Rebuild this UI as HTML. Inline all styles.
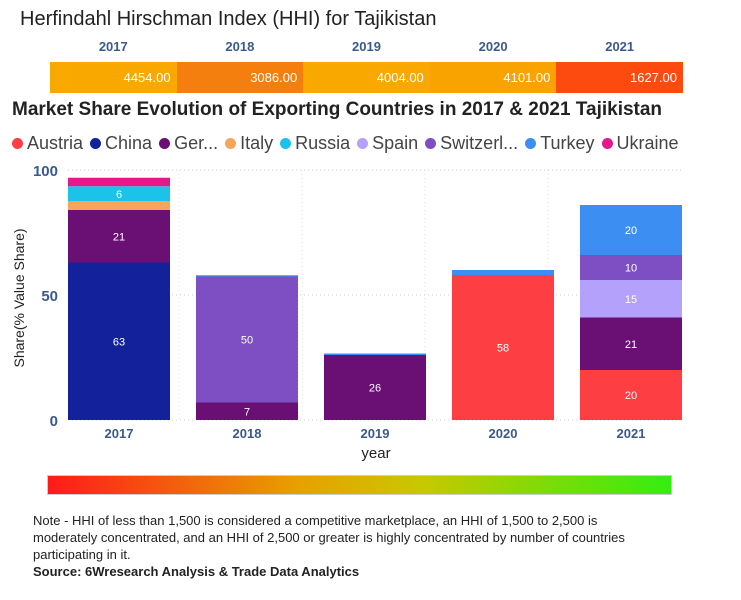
<!DOCTYPE html>
<html><head><meta charset="utf-8"><style>
body{margin:0;width:741px;height:600px;background:#fff;font-family:"Liberation Sans",sans-serif;position:relative;overflow:hidden}
.a{position:absolute}
</style></head><body>
<div class="a" style="left:20px;top:8px;font-size:20px;color:#222">Herfindahl Hirschman Index (HHI) for Tajikistan</div>
<div id="hhi"></div>
<div class="a" style="left:12px;top:99px;font-size:19px;font-weight:bold;color:#222">Market Share Evolution of Exporting Countries in 2017 &amp; 2021 Tajikistan</div>
<div id="legend" class="a" style="left:12px;top:133px;font-size:18px;color:#444;white-space:nowrap"></div>
<svg id="chart" class="a" style="left:0;top:160px" width="741" height="310"></svg>
<div class="a" style="left:47px;top:475px;width:623px;height:18px;background:linear-gradient(to right,#ff1a1a,#e8a000 40%,#c8c800 60%,#33ee11);border:1px solid #ccc"></div>
<div class="a" style="left:33px;top:512px;width:630px;font-size:13px;line-height:17px;color:#222">Note - HHI of less than 1,500 is considered a competitive marketplace, an HHI of 1,500 to 2,500 is moderately concentrated, and an HHI of 2,500 or greater is highly concentrated by number of countries participating in it.<br><b>Source: 6Wresearch Analysis &amp; Trade Data Analytics</b></div>
<script>
const years=['2017','2018','2019','2020','2021'];
const hhiValues=[4454,3086,4004,4101,1627];
const hhiColors=['#f9a800','#f57f0e','#f9a800','#f9a300','#fd4b0f'];
const countries=['Austria','China','Ger...','Italy','Russia','Spain','Switzerl...','Turkey','Ukraine'];
const colors=['#fd3f44','#13229a','#6a0f73','#f6a55a','#1bc3e8','#b4a1fb','#7d4fc2','#3d8ef3','#e6168c'];
const austria=[0,0,0,58,20];
const china=[63,0,0,0,0];
const germany=[21,7,26,0,21];
const italy=[3.5,0,0,0,0];
const russia=[6,0,0,0,0];
const spain=[0,0,0,0,15];
const switzerland=[0,50.4,0,0,10];
const turkey=[0,0.5,0.6,2,20];
const ukraine=[3.4,0,0,0,0];
const series=[austria,china,germany,italy,russia,spain,switzerland,turkey,ukraine];
const yTicks=[0,50,100];

const hhi=document.getElementById('hhi');
years.forEach((y,i)=>{
  const l=document.createElement('div');l.className='a';
  
  
  l.style.cssText=`left:${50+i*126.6}px;top:39px;width:126.6px;text-align:center;font-size:13px;font-weight:bold;color:#3a5a8c`;
  l.textContent=y;hhi.appendChild(l);
  const c=document.createElement('div');c.className='a';
  
  
  c.style.cssText=`left:${50+i*126.6}px;top:62px;width:126.6px;height:31px;background:${hhiColors[i]};color:#fff;font-size:13px;text-align:right;line-height:31px;box-sizing:border-box;padding-right:6px`;
  c.textContent=hhiValues[i].toFixed(2);hhi.appendChild(c);
});
const lg=document.getElementById('legend');
countries.forEach((n,i)=>{
  const s=document.createElement('span');
  
  
  s.style.marginRight='7px';
  s.innerHTML=`<span style="display:inline-block;width:11px;height:11px;border-radius:50%;background:${colors[i]};margin-right:4px"></span>${n}`;
  lg.appendChild(s);
});
const svg=document.getElementById('chart');const NS='http://www.w3.org/2000/svg';
const y0=260,ppu=2.5,left=68,right=683,slot=(right-left)/5,bw=102;
const yS=v=>y0-v*ppu;
function el(t,a,txt){const e=document.createElementNS(NS,t);for(const k in a)e.setAttribute(k,a[k]);if(txt!=null)e.textContent=txt;svg.appendChild(e);return e;}
yTicks.forEach(t=>{
  const g=el('line',{x1:left,x2:right,y1:yS(t),y2:yS(t),stroke:'#ccc','stroke-dasharray':'1,3'});
  
  
  const l=el('text',{x:58,y:yS(t)+6,'text-anchor':'end','font-size':15,'font-weight':'bold',fill:'#3a5a8c'},t);
  
  
});
for(let i=1;i<5;i++){const v=el('line',{x1:left+i*slot-12,x2:left+i*slot-12,y1:yS(100),y2:y0,stroke:'#ddd','stroke-dasharray':'1,3'});

}
years.forEach((yr,i)=>{
  const bx=left+i*128;
  let acc=0;
  series.forEach((s,k)=>{
    const v=s[i];if(!v)return;
    const r=el('rect',{x:bx,y:yS(acc+v),width:bw,height:v*ppu,fill:colors[k]});
    
    
    if(v>=5){const t=el('text',{x:bx+bw/2,y:yS(acc+v/2)+4,'text-anchor':'middle','font-size':11,fill:'#fff'},Math.round(v));
    
    }
    acc+=v;
  });
  const xl=el('text',{x:bx+bw/2,y:y0+18,'text-anchor':'middle','font-size':13,'font-weight':'bold',fill:'#3a5a8c'},yr);
  
  
});
const xt=el('text',{x:376,y:y0+38,'text-anchor':'middle','font-size':15,fill:'#222'},'year');


const yt=el('text',{x:0,y:0,'text-anchor':'middle','font-size':14,fill:'#222',transform:'translate(24,138) rotate(-90)'},'Share(% Value Share)');


</script>
</body></html>
